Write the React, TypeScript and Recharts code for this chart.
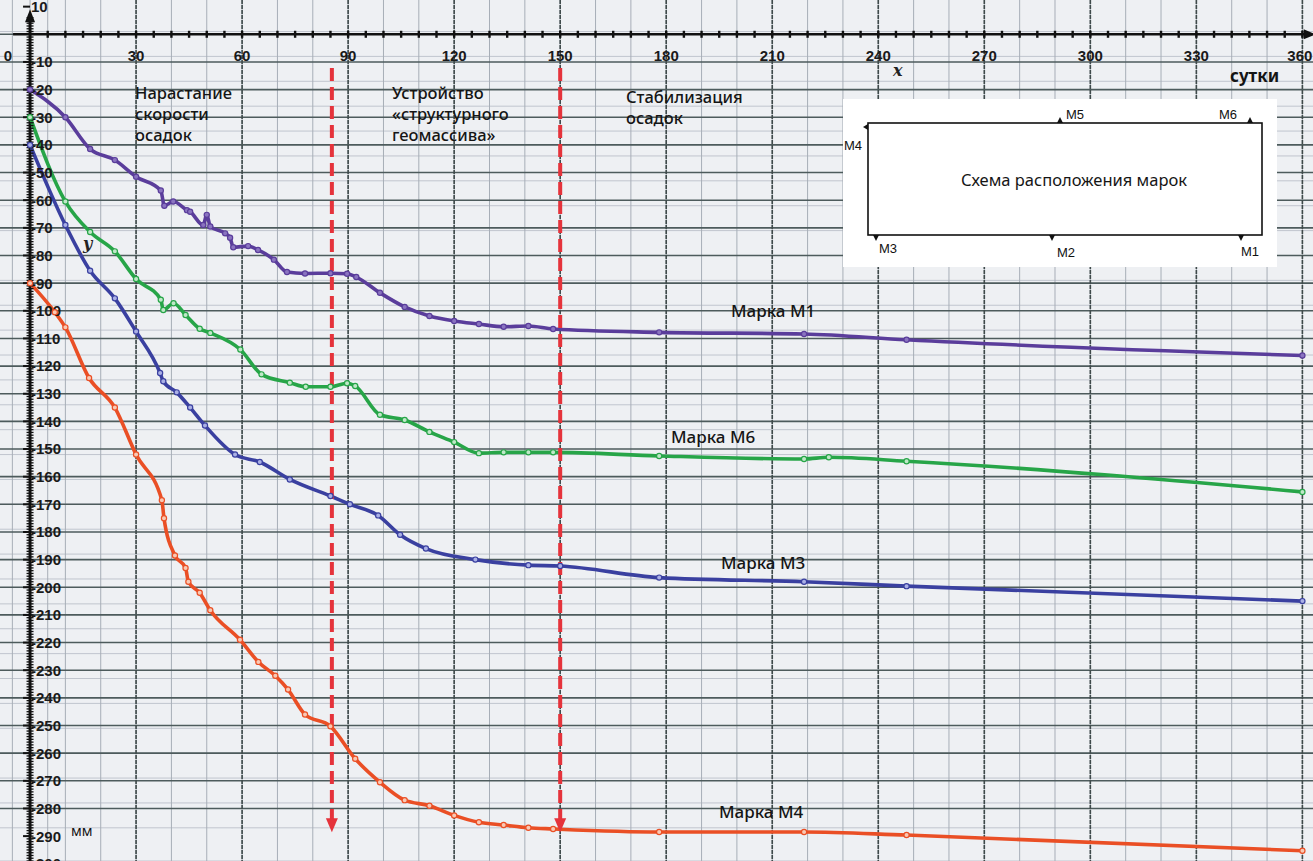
import { ComposedChart, Line, XAxis, YAxis, CartesianGrid, ReferenceLine, ReferenceDot, Scatter } from "recharts";

const WIDTH = 1313;
const HEIGHT = 861;

// axis ranges: сутки (x) and мм (y)
const X_DOMAIN: [number, number] = [-8.5, 363];
const Y_DOMAIN: [number, number] = [-299, 12.4];

// Марка М1
const m1Days = [0, 10, 17, 24, 30, 37, 38, 40.5, 44.4, 45.3, 49, 50, 51, 55.2, 56.6, 57.5, 61.7, 64.5, 69, 72.7, 77.8, 85, 89.7, 92.3, 99, 106, 113, 120, 127, 134, 141, 148, 178, 219, 248, 360];
const m1Values = [-20, -30, -41.5, -45.5, -51.5, -56.5, -62, -60.5, -63.6, -64.2, -69, -65.3, -69.5, -72, -73.6, -77, -76.6, -78, -81.5, -86, -86.5, -86.4, -86.6, -87.8, -93.5, -98.6, -101.9, -103.7, -104.8, -105.8, -105.5, -106.6, -107.8, -108.4, -110.5, -116.2];

// Марка М6
const m6Days = [0, 10, 17, 24, 30, 37, 37.7, 40.6, 44, 48, 51, 59.5, 65.5, 73.5, 78, 85, 89.7, 92, 99, 106, 113, 120, 127, 134, 141, 148, 178, 219, 226, 248, 360];
const m6Values = [-30, -60.5, -71.5, -78.5, -88.5, -96, -99.7, -97.3, -101.5, -106.5, -108, -114, -123, -126, -127.5, -127.5, -126.2, -127.2, -137.6, -139.5, -143.8, -147.5, -151.5, -151.2, -151.2, -151.2, -152.5, -153.6, -153, -154.4, -165.5];

// Марка М3
const m3Days = [0, 10, 17, 24, 30, 36.8, 37.7, 41.5, 45.3, 49.5, 58, 65, 73.5, 85, 90.5, 98.5, 104.7, 112, 126, 141, 150, 178, 219, 248, 360];
const m3Values = [-40, -69, -85.5, -95.5, -107.5, -122.5, -125.5, -129.5, -135, -141.5, -152, -154.7, -161, -167, -170, -174, -181, -186, -190, -192, -192.3, -196.5, -198, -199.6, -205];

// Марка М4
const m4Days = [0, 7, 10, 16.7, 24, 30, 37.3, 37.9, 41, 44, 44.8, 48, 51, 59.4, 64.6, 69.4, 73, 77.8, 85, 92, 99, 106, 113, 120, 127, 134, 141, 148, 178, 219, 248, 360];
const m4Values = [-90, -100.5, -106, -124.3, -135, -152, -168.5, -175, -188.5, -193, -198, -202, -208.3, -219, -227, -232, -237, -246, -250.3, -262, -270.5, -277, -279, -282.5, -285, -286, -287, -287.4, -288.5, -288.5, -289.6, -295.3];

// phase boundaries (red dashed arrows)
const phaseDays = [85.4, 150];
const phaseTop = -12.2;
const phaseTip = -288.6;

const xTickValues = [0, 30, 60, 90, 120, 150, 180, 210, 240, 270, 300, 330, 360];
const yTickValues = [10, -10, -20, -30, -40, -50, -60, -70, -80, -90, -100, -110, -120, -130, -140, -150, -160, -170, -180, -190, -200, -210, -220, -230, -240, -250, -260, -270, -280, -290, -300];

const COLORS = {
  m1: "#5a3d9b",
  m6: "#27a548",
  m3: "#3a40a0",
  m4: "#ea4f25",
  phase: "#e5333b",
  axis: "#111111",
};

const FONT = "'Noto Sans', 'Liberation Sans', sans-serif";
const TICK_FONT = "'Liberation Sans', Arial, sans-serif";

const toPoints = (days: number[], values: number[]) => days.map((x, i) => ({ x, y: values[i] }));

// graph-paper grid
const minorH = Array.from({ length: 312 }, (_, i) => 12 - i);
const majorH = Array.from({ length: 32 }, (_, i) => 10 - i * 10);
const minorV = Array.from({ length: 74 }, (_, i) => -5 + i * 5);
const majorV = xTickValues.slice(1);

// axis tick marks
const yAxisTicks = Array.from({ length: 306 }, (_, i) => ({ x: 0, y: 6 - i }));
const xAxisTicks = Array.from({ length: 72 }, (_, i) => ({ x: 5 + i * 5, y: 0 }));

const annotations = [
  { lines: ["Нарастание", "скорости", "осадок"], x: 135, y: 93 },
  { lines: ["Устройство", "«структурного", "геомассива»"], x: 392, y: 93 },
  { lines: ["Стабилизация", "осадок"], x: 626, y: 97 },
];

const seriesLabels = [
  { text: "Марка М1", x: 731, y: 311 },
  { text: "Марка М6", x: 671, y: 437 },
  { text: "Марка М3", x: 721, y: 563 },
  { text: "Марка М4", x: 719, y: 812 },
];

const dotStyle = (stroke: string, fill: string) => ({ r: 2.6, stroke, fill, strokeWidth: 1.2 });

const Overlay = () => (
  <svg width={WIDTH} height={HEIGHT} style={{ position: "absolute", left: 0, top: 0, pointerEvents: "none" }}>
    {annotations.map((a) =>
      a.lines.map((line, i) => (
        <text key={a.x + line} x={a.x} y={a.y + i * 21} dy="0.35em" fontFamily={FONT} fontSize={16.5} fontWeight={500} fill="#151515">
          {line}
        </text>
      ))
    )}
    {seriesLabels.map((s) => (
      <text key={s.text} x={s.x} y={s.y} dy="0.35em" fontFamily={FONT} fontSize={17} fontWeight={500} fill="#151515">
        {s.text}
      </text>
    ))}
    <text x={893} y={70} dy="0.35em" fontFamily="'DejaVu Serif', serif" fontStyle="italic" fontWeight={700} fontSize={16} fill="#222">x</text>
    <text x={83} y={243} dy="0.35em" fontFamily="'DejaVu Serif', serif" fontStyle="italic" fontWeight={700} fontSize={16} fill="#222">y</text>
    <text x={1230} y={76} dy="0.35em" fontFamily={FONT} fontWeight={700} fontSize={17} fill="#151515">сутки</text>
    <text x={71} y={831} dy="0.35em" fontFamily={FONT} fontSize={14} fill="#151515">мм</text>

    {/* Схема расположения марок */}
    <rect x={843} y={99} width={434} height={168} fill="#ffffff" />
    <rect x={868} y={123} width={394} height={112} fill="none" stroke="#111" strokeWidth={1.6} />
    <polygon points="1057,123 1063,123 1060,117" fill="#111" />
    <polygon points="1247,123 1253,123 1250,117" fill="#111" />
    <polygon points="868,124 868,130 863,127" fill="#111" />
    <polygon points="873,235 879,235 876,241" fill="#111" />
    <polygon points="1049,235 1055,235 1052,241" fill="#111" />
    <polygon points="1238,235 1244,235 1241,241" fill="#111" />
    <text x={1066} y={114} dy="0.35em" fontFamily={TICK_FONT} fontSize={13} fill="#111">M5</text>
    <text x={1219} y={114} dy="0.35em" fontFamily={TICK_FONT} fontSize={13} fill="#111">M6</text>
    <text x={844} y={145} dy="0.35em" fontFamily={TICK_FONT} fontSize={13} fill="#111">M4</text>
    <text x={879} y={248} dy="0.35em" fontFamily={TICK_FONT} fontSize={13} fill="#111">M3</text>
    <text x={1057} y={252} dy="0.35em" fontFamily={TICK_FONT} fontSize={13} fill="#111">M2</text>
    <text x={1241} y={251} dy="0.35em" fontFamily={TICK_FONT} fontSize={13} fill="#111">M1</text>
    <text x={1074} y={180} dy="0.35em" textAnchor="middle" fontFamily={FONT} fontSize={16.5} fill="#151515">
      Схема расположения марок
    </text>
  </svg>
);

const App = () => {
  const series = [
    { key: "m1", data: toPoints(m1Days, m1Values), color: COLORS.m1, fill: "#8a74c0" },
    { key: "m6", data: toPoints(m6Days, m6Values), color: COLORS.m6, fill: "#bfe8c8" },
    { key: "m3", data: toPoints(m3Days, m3Values), color: COLORS.m3, fill: "#aab0e6" },
    { key: "m4", data: toPoints(m4Days, m4Values), color: COLORS.m4, fill: "#f9c9b4" },
  ];

  return (
    <div style={{ position: "absolute", left: 0, top: 0, width: WIDTH, height: HEIGHT, overflow: "hidden", background: "#eef0f3" }}>
      <ComposedChart width={WIDTH} height={HEIGHT} margin={{ top: 0, right: 0, bottom: 0, left: 0 }}>
        <XAxis type="number" dataKey="x" domain={X_DOMAIN} allowDataOverflow hide />
        <YAxis type="number" dataKey="y" domain={Y_DOMAIN} allowDataOverflow hide />

        <CartesianGrid fill="#eef0f3" vertical={false} horizontalValues={minorH} stroke="#c0c5ce" strokeWidth={1} />
        <CartesianGrid horizontal={false} verticalValues={minorV} stroke="#a7aeb7" strokeWidth={1} />
        <CartesianGrid vertical={false} horizontalValues={majorH} stroke="#4d5b5c" strokeWidth={1.6} />
        <CartesianGrid horizontal={false} verticalValues={majorV} stroke="#3f4a4a" strokeWidth={1.6} strokeDasharray="4 1" />

        {/* axes */}
        <ReferenceLine segment={[{ x: -4.8, y: 0 }, { x: 361.5, y: 0 }]} stroke={COLORS.axis} strokeWidth={2.6} ifOverflow="visible" />
        <ReferenceLine segment={[{ x: 0, y: 7 }, { x: 0, y: -305 }]} stroke={COLORS.axis} strokeWidth={3} ifOverflow="visible" />
        <ReferenceDot x={0} y={8} r={0} ifOverflow="visible"
          shape={(p: any) => <polygon points={`${p.cx - 5},${p.cy + 10} ${p.cx + 5},${p.cy + 10} ${p.cx},${p.cy - 3}`} fill={COLORS.axis} />} />
        <ReferenceDot x={361.5} y={0} r={0} ifOverflow="visible"
          shape={(p: any) => <polygon points={`${p.cx - 4},${p.cy - 5} ${p.cx - 4},${p.cy + 5} ${p.cx + 8},${p.cy}`} fill={COLORS.axis} />} />
        <Scatter data={yAxisTicks} dataKey="y" isAnimationActive={false}
          shape={(p: any) => <line x1={p.cx - 3.5} x2={p.cx + 3.5} y1={p.cy} y2={p.cy} stroke={COLORS.axis} strokeWidth={1.3} />} />
        <Scatter data={xAxisTicks} dataKey="y" isAnimationActive={false}
          shape={(p: any) => <line x1={p.cx} x2={p.cx} y1={p.cy - 3.5} y2={p.cy + 3.5} stroke={COLORS.axis} strokeWidth={2.4} />} />

        {yTickValues.map((v) => (
          <ReferenceDot key={`y${v}`} x={0} y={v} r={0} ifOverflow="visible"
            shape={(p: any) => (
              <g>
                <line x1={p.cx - 7} x2={p.cx} y1={p.cy} y2={p.cy} stroke={COLORS.axis} strokeWidth={2} />
                <text x={p.cx + 1} y={p.cy} dy="0.36em" fontFamily={TICK_FONT} fontWeight={700} fontSize={15} fill="#1a1a1a">
                  {v > 0 ? String(v) : `-${-v}`}
                </text>
              </g>
            )} />
        ))}
        {xTickValues.map((d) => (
          <ReferenceDot key={`x${d}`} x={d} y={0} r={0} ifOverflow="visible"
            shape={(p: any) => (
              <text x={d === 0 ? p.cx - 18 : d === 360 ? p.cx + 10 : p.cx} y={p.cy + 21} dy="0.35em"
                textAnchor={d === 0 ? "end" : d === 360 ? "end" : "middle"}
                fontFamily={TICK_FONT} fontWeight={700} fontSize={15} fill="#1a1a1a">
                {d}
              </text>
            )} />
        ))}

        {series.map((s) => (
          <Line key={s.key} data={s.data} dataKey="y" type="monotone" stroke={s.color} strokeWidth={3.6}
            dot={dotStyle(s.color, s.fill)} activeDot={false} isAnimationActive={false} />
        ))}

        {phaseDays.map((d) => (
          <ReferenceLine key={`p${d}`} segment={[{ x: d, y: phaseTop }, { x: d, y: phaseTip + 4.5 }]}
            stroke={COLORS.phase} strokeWidth={4} strokeDasharray="13 6" ifOverflow="visible" />
        ))}
        {phaseDays.map((d) => (
          <ReferenceDot key={`a${d}`} x={d} y={phaseTip} r={0} ifOverflow="visible"
            shape={(p: any) => <polygon points={`${p.cx - 6},${p.cy - 14} ${p.cx + 6},${p.cy - 14} ${p.cx},${p.cy}`} fill={COLORS.phase} />} />
        ))}
      </ComposedChart>
      <Overlay />
    </div>
  );
};

export default App;
